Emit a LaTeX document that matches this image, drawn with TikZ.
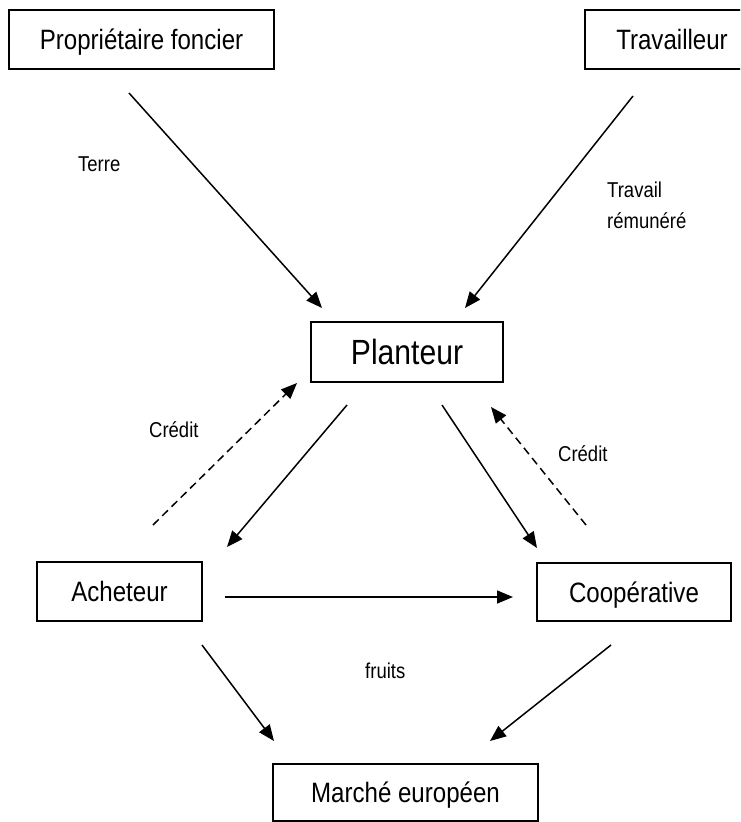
\documentclass[tikz,border=0pt]{standalone}
\usepackage{fontspec}
\setmainfont[FakeStretch=0.86]{Liberation Sans}
\usetikzlibrary{arrows.meta}
\begin{document}
\begin{tikzpicture}[x=1pt,y=-1pt,
  box/.style={draw,line width=1.6pt,inner sep=0pt,font=\fontsize{28}{32}\selectfont,text height=20pt,text depth=0pt},
  bigbox/.style={box,font=\fontsize{35}{40}\selectfont,text height=25pt},
  conn/.style={line width=1.5pt,-{Triangle[length=16pt,width=13pt]}},
  credit/.style={conn,dash pattern=on 8pt off 5pt},
  lbl/.style={anchor=base west,inner sep=0pt,font=\fontsize{21.5}{25}\selectfont}]
\useasboundingbox (0,0) rectangle (740,822);
\clip (0,0) rectangle (740,822);
\fill[white] (0,0) rectangle (740,822);
% boxes
\node[box,minimum width=265pt,minimum height=59pt] (prop) at (141.5,39.5) {Propriétaire foncier};
\node[box,minimum width=174pt,minimum height=59pt] (trav) at (672,39.5) {Travailleur};
\node[bigbox,minimum width=192pt,minimum height=60pt] (plant) at (407,352) {Planteur};
\node[box,minimum width=165pt,minimum height=59pt] (ach) at (119.5,591.5) {Acheteur};
\node[box,minimum width=194pt,minimum height=58pt] (coop) at (634,592) {Coopérative};
\node[box,minimum width=265pt,minimum height=57pt] (march) at (405.5,792.5) {Marché européen};
% connector ends
\coordinate (pfA) at (129,93);  \coordinate (pfB) at (322,308);
\coordinate (trA) at (633,96);  \coordinate (trB) at (465,308);
\coordinate (paA) at (347,405); \coordinate (paB) at (227,547);
\coordinate (apA) at (153,525); \coordinate (apB) at (297,383);
\coordinate (pcA) at (442,405); \coordinate (pcB) at (537,548);
\coordinate (cpA) at (586,525); \coordinate (cpB) at (491,407);
\coordinate (acA) at (225,597); \coordinate (acB) at (513,597);
\coordinate (amA) at (202,645); \coordinate (amB) at (274,741);
\coordinate (cmA) at (611,645); \coordinate (cmB) at (490,741);
% connectors
\draw[conn] (pfA) -- (pfB);
\draw[conn] (trA) -- (trB);
\draw[conn] (paA) -- (paB);
\draw[credit] (apA) -- (apB);
\draw[conn] (pcA) -- (pcB);
\draw[credit] (cpA) -- (cpB);
\draw[conn] (acA) -- (acB);
\draw[conn] (amA) -- (amB);
\draw[conn] (cmA) -- (cmB);
% labels
\node[lbl] (terre) at (78,171) {Terre};
\node[lbl] (travail) at (607,197) {Travail};
\node[lbl] (remun) at (607,228) {rémunéré};
\node[lbl] (cred1) at (149,437) {Crédit};
\node[lbl] (cred2) at (558,461) {Crédit};
\node[lbl] (fruits) at (365,678) {fruits};
\end{tikzpicture}
\end{document}
